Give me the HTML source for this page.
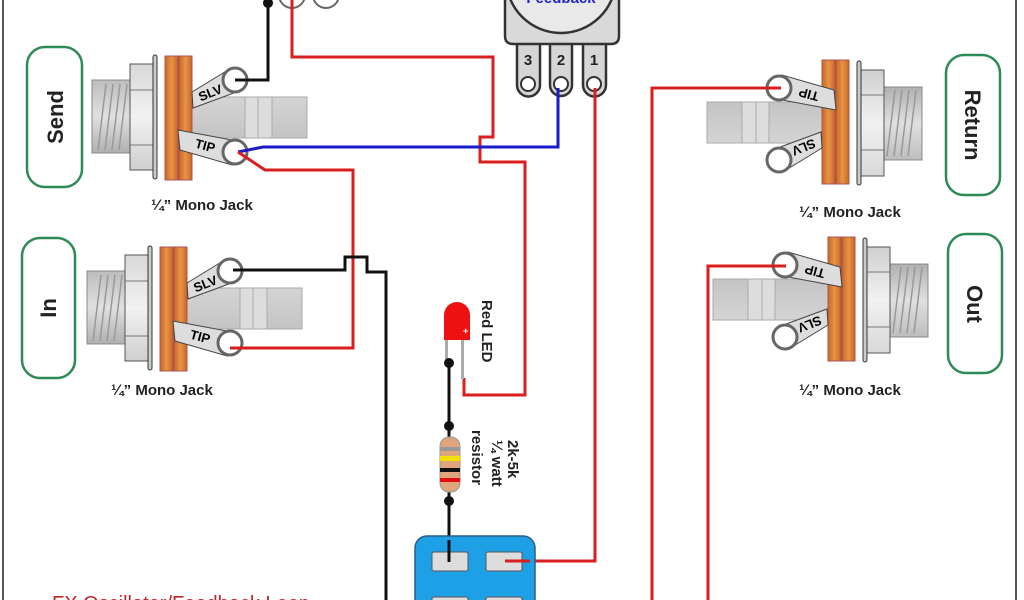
<!DOCTYPE html>
<html><head><meta charset="utf-8"><style>
html,body{margin:0;padding:0;background:#fff;}
svg{display:block;font-family:"Liberation Sans",Arial,sans-serif;}
</style></head><body>
<svg width="1024" height="600" viewBox="0 0 1024 600" xmlns="http://www.w3.org/2000/svg">
<defs>
<linearGradient id="thr" x1="0" y1="0" x2="0" y2="1"><stop offset="0" stop-color="#bdbdbd"/><stop offset="0.5" stop-color="#e0e0e0"/><stop offset="1" stop-color="#b0b0b0"/></linearGradient>
<linearGradient id="hex" x1="0" y1="0" x2="0" y2="1"><stop offset="0" stop-color="#d8d8d8"/><stop offset="0.5" stop-color="#f2f2f2"/><stop offset="1" stop-color="#cfcfcf"/></linearGradient>
<linearGradient id="org" x1="0" y1="0" x2="1" y2="0"><stop offset="0" stop-color="#c8671f"/><stop offset="0.5" stop-color="#e8944a"/><stop offset="1" stop-color="#c8671f"/></linearGradient>
<linearGradient id="plug" x1="0" y1="0" x2="0" y2="1"><stop offset="0" stop-color="#d4d4d4"/><stop offset="1" stop-color="#c4c4c4"/></linearGradient>
</defs>
<rect width="1024" height="600" fill="#fff"/>
<line x1="3" y1="0" x2="3" y2="600" stroke="#555" stroke-width="2"/>
<line x1="1016" y1="0" x2="1016" y2="600" stroke="#555" stroke-width="2"/>

<!-- Send jack -->
<g>
<rect x="192" y="97" width="115" height="41" fill="url(#plug)" stroke="#aaa"/>
<rect x="245" y="97" width="13" height="41" fill="#ddd" stroke="#aaa"/>
<rect x="258" y="97" width="14" height="41" fill="#ddd" stroke="#aaa"/>
<rect x="92" y="80" width="38" height="73" fill="url(#thr)" stroke="#888"/>
<g stroke="#999" stroke-width="1.5"><line x1="98" y1="150" x2="106" y2="84"/><line x1="105" y1="150" x2="113" y2="84"/><line x1="112" y1="150" x2="120" y2="84"/><line x1="119" y1="150" x2="127" y2="84"/></g>
<rect x="130" y="64" width="25" height="106" fill="url(#hex)" stroke="#555"/>
<line x1="130" y1="90" x2="155" y2="90" stroke="#777"/><line x1="130" y1="145" x2="155" y2="145" stroke="#777"/>
<rect x="153" y="55" width="4" height="124" rx="2" fill="#ccc" stroke="#333"/>
<rect x="165" y="56" width="13" height="124" fill="url(#org)" stroke="#a55"/>
<rect x="179" y="56" width="13" height="124" fill="url(#org)" stroke="#a55"/>
<polygon points="192,92 228,70 242,90 193,108" fill="#ddd" stroke="#444"/>
<text x="212" y="97" font-size="13" font-weight="bold" transform="rotate(-22 212 97)" text-anchor="middle">SLV</text>
<circle cx="235" cy="80" r="12" fill="#fff" stroke="#666" stroke-width="3"/>
<polygon points="178,130 232,140 232,165 180,150" fill="#ddd" stroke="#444"/>
<text x="204" y="150" font-size="13" font-weight="bold" transform="rotate(15 204 150)" text-anchor="middle">TIP</text>
<circle cx="235" cy="152" r="12" fill="#fff" stroke="#666" stroke-width="3"/>
</g>
<!-- In jack -->
<g transform="translate(-5,191)">
<rect x="192" y="97" width="115" height="41" fill="url(#plug)" stroke="#aaa"/>
<rect x="245" y="97" width="13" height="41" fill="#ddd" stroke="#aaa"/>
<rect x="258" y="97" width="14" height="41" fill="#ddd" stroke="#aaa"/>
<rect x="92" y="80" width="38" height="73" fill="url(#thr)" stroke="#888"/>
<g stroke="#999" stroke-width="1.5"><line x1="98" y1="150" x2="106" y2="84"/><line x1="105" y1="150" x2="113" y2="84"/><line x1="112" y1="150" x2="120" y2="84"/><line x1="119" y1="150" x2="127" y2="84"/></g>
<rect x="130" y="64" width="25" height="106" fill="url(#hex)" stroke="#555"/>
<line x1="130" y1="90" x2="155" y2="90" stroke="#777"/><line x1="130" y1="145" x2="155" y2="145" stroke="#777"/>
<rect x="153" y="55" width="4" height="124" rx="2" fill="#ccc" stroke="#333"/>
<rect x="165" y="56" width="13" height="124" fill="url(#org)" stroke="#a55"/>
<rect x="179" y="56" width="13" height="124" fill="url(#org)" stroke="#a55"/>
<polygon points="192,92 228,70 242,90 193,108" fill="#ddd" stroke="#444"/>
<text x="212" y="97" font-size="13" font-weight="bold" transform="rotate(-22 212 97)" text-anchor="middle">SLV</text>
<circle cx="235" cy="80" r="12" fill="#fff" stroke="#666" stroke-width="3"/>
<polygon points="178,130 232,140 232,165 180,150" fill="#ddd" stroke="#444"/>
<text x="204" y="150" font-size="13" font-weight="bold" transform="rotate(15 204 150)" text-anchor="middle">TIP</text>
<circle cx="235" cy="152" r="12" fill="#fff" stroke="#666" stroke-width="3"/>
</g>
<!-- Return jack -->
<g transform="rotate(180 507 120)">
<rect x="192" y="97" width="115" height="41" fill="url(#plug)" stroke="#aaa"/>
<rect x="245" y="97" width="13" height="41" fill="#ddd" stroke="#aaa"/>
<rect x="258" y="97" width="14" height="41" fill="#ddd" stroke="#aaa"/>
<rect x="92" y="80" width="38" height="73" fill="url(#thr)" stroke="#888"/>
<g stroke="#999" stroke-width="1.5"><line x1="98" y1="150" x2="106" y2="84"/><line x1="105" y1="150" x2="113" y2="84"/><line x1="112" y1="150" x2="120" y2="84"/><line x1="119" y1="150" x2="127" y2="84"/></g>
<rect x="130" y="64" width="25" height="106" fill="url(#hex)" stroke="#555"/>
<line x1="130" y1="90" x2="155" y2="90" stroke="#777"/><line x1="130" y1="145" x2="155" y2="145" stroke="#777"/>
<rect x="153" y="55" width="4" height="124" rx="2" fill="#ccc" stroke="#333"/>
<rect x="165" y="56" width="13" height="124" fill="url(#org)" stroke="#a55"/>
<rect x="179" y="56" width="13" height="124" fill="url(#org)" stroke="#a55"/>
<polygon points="192,92 228,70 242,90 193,108" fill="#ddd" stroke="#444"/>
<text x="212" y="97" font-size="13" font-weight="bold" transform="rotate(-22 212 97)" text-anchor="middle">SLV</text>
<circle cx="235" cy="80" r="12" fill="#fff" stroke="#666" stroke-width="3"/>
<polygon points="178,130 232,140 232,165 180,150" fill="#ddd" stroke="#444"/>
<text x="204" y="150" font-size="13" font-weight="bold" transform="rotate(15 204 150)" text-anchor="middle">TIP</text>
<circle cx="235" cy="152" r="12" fill="#fff" stroke="#666" stroke-width="3"/>
</g>
<!-- Out jack -->
<g transform="rotate(180 510 208.5)">
<rect x="192" y="97" width="115" height="41" fill="url(#plug)" stroke="#aaa"/>
<rect x="245" y="97" width="13" height="41" fill="#ddd" stroke="#aaa"/>
<rect x="258" y="97" width="14" height="41" fill="#ddd" stroke="#aaa"/>
<rect x="92" y="80" width="38" height="73" fill="url(#thr)" stroke="#888"/>
<g stroke="#999" stroke-width="1.5"><line x1="98" y1="150" x2="106" y2="84"/><line x1="105" y1="150" x2="113" y2="84"/><line x1="112" y1="150" x2="120" y2="84"/><line x1="119" y1="150" x2="127" y2="84"/></g>
<rect x="130" y="64" width="25" height="106" fill="url(#hex)" stroke="#555"/>
<line x1="130" y1="90" x2="155" y2="90" stroke="#777"/><line x1="130" y1="145" x2="155" y2="145" stroke="#777"/>
<rect x="153" y="55" width="4" height="124" rx="2" fill="#ccc" stroke="#333"/>
<rect x="165" y="56" width="13" height="124" fill="url(#org)" stroke="#a55"/>
<rect x="179" y="56" width="13" height="124" fill="url(#org)" stroke="#a55"/>
<polygon points="192,92 228,70 242,90 193,108" fill="#ddd" stroke="#444"/>
<text x="212" y="97" font-size="13" font-weight="bold" transform="rotate(-22 212 97)" text-anchor="middle">SLV</text>
<circle cx="235" cy="80" r="12" fill="#fff" stroke="#666" stroke-width="3"/>
<polygon points="178,130 232,140 232,165 180,150" fill="#ddd" stroke="#444"/>
<text x="204" y="150" font-size="13" font-weight="bold" transform="rotate(15 204 150)" text-anchor="middle">TIP</text>
<circle cx="235" cy="152" r="12" fill="#fff" stroke="#666" stroke-width="3"/>
</g>

<!-- label boxes -->
<g fill="none" stroke="#2e8b57" stroke-width="2.5">
<rect x="27" y="47" width="55" height="140" rx="18"/>
<rect x="22" y="238" width="53" height="140" rx="18"/>
<rect x="946" y="55" width="54" height="140" rx="18"/>
<rect x="948" y="234" width="54" height="139" rx="18"/>
</g>
<g font-size="22" font-weight="bold" fill="#222" text-anchor="middle">
<text transform="translate(63,117) rotate(-90)">Send</text>
<text transform="translate(56,308) rotate(-90)">In</text>
<text transform="translate(965,125) rotate(90)">Return</text>
<text transform="translate(967,304) rotate(90)">Out</text>
</g>
<g font-size="15" font-weight="bold" fill="#222" text-anchor="middle">
<text x="202" y="210">¼” Mono Jack</text>
<text x="162" y="395">¼” Mono Jack</text>
<text x="850" y="217">¼” Mono Jack</text>
<text x="850" y="395">¼” Mono Jack</text>
</g>

<!-- Potentiometer -->
<g stroke="#333" stroke-width="2.5">
<path d="M517,40 V85 a11,11 0 0 0 23,0 V40 Z" fill="#d6d6d6"/>
<path d="M550,40 V85 a11,11 0 0 0 22,0 V40 Z" fill="#d6d6d6"/>
<path d="M583,40 V85 a11,11 0 0 0 23,0 V40 Z" fill="#d6d6d6"/>
<path d="M505,-5 V36 q0,8 8,8 H611 q8,0 8,-8 V-5 Z" fill="#d9d9d9"/>
<circle cx="561" cy="-22" r="55" fill="#e9e9e9"/>
</g>
<g fill="#fff" stroke="#333" stroke-width="2"><circle cx="528" cy="84" r="7"/><circle cx="561" cy="84" r="7"/><circle cx="594" cy="84" r="7"/></g>
<g font-size="15" font-weight="bold" fill="#222" text-anchor="middle"><text x="528" y="65">3</text><text x="561" y="65">2</text><text x="594" y="65">1</text></g>
<text x="561" y="3" font-size="15" font-weight="bold" fill="#2323c8" text-anchor="middle">Feedback</text>
<g fill="#fff" stroke="#666" stroke-width="2"><circle cx="292" cy="-5" r="13"/><circle cx="326" cy="-5" r="13"/></g>

<!-- wires -->
<g fill="none" stroke-width="3" stroke-linejoin="miter">
<polyline points="268,3 268,80 235,80" stroke="#111"/>
<circle cx="268" cy="3" r="5" fill="#111" stroke="none"/>
<polyline points="292,0 292,57 493,57 493,137 480,137 480,162 525,162 525,395 464,395 464,378" stroke="#d81e1e"/>
<polyline points="238,152 263,147 558,147 558,88" stroke="#1a1ac8"/>
<polyline points="595,88 595,561 505,561" stroke="#d81e1e"/>
<polyline points="238,152 265,170 353,170 353,348 230,348" stroke="#d81e1e"/>
<polyline points="233,270 345,270 345,257 367,257 367,272 386,272 386,600" stroke="#111"/>
<polyline points="652,600 652,88 781,88" stroke="#d81e1e"/>
<polyline points="708,600 708,266 786,266" stroke="#d81e1e"/>
<line x1="449" y1="362" x2="449" y2="561" stroke="#111"/>
</g>

<!-- LED -->
<rect x="445" y="337" width="3" height="26" fill="#aaa"/>
<rect x="461" y="337" width="3" height="42" fill="#aaa"/>
<path d="M444,340 V315 a13,13 0 0 1 26,0 V340 Z" fill="#ee1111"/>
<text x="463" y="334" font-size="9" fill="#fff" font-weight="bold">+</text>
<circle cx="449" cy="363" r="5" fill="#111"/>
<text transform="translate(482,300) rotate(90)" font-size="15" font-weight="bold" fill="#222">Red LED</text>

<!-- resistor -->
<circle cx="449" cy="426" r="5" fill="#111"/>
<circle cx="449" cy="501" r="5" fill="#111"/>
<rect x="440" y="437" width="20" height="55" rx="9" fill="#e0a57a" stroke="#999"/>
<rect x="440" y="447" width="20" height="4" fill="#999"/>
<rect x="440" y="456" width="20" height="5" fill="#f3e000"/>
<rect x="440" y="468" width="20" height="4" fill="#111"/>
<rect x="440" y="478" width="20" height="4" fill="#e01010"/>
<g font-size="15" font-weight="bold" fill="#222">
<text transform="translate(508,440) rotate(90)">2k-5k</text>
<text transform="translate(492,440) rotate(90)">¼ watt</text>
<text transform="translate(472,430) rotate(90)">resistor</text>
</g>

<!-- switch -->
<rect x="415" y="536" width="120" height="80" rx="12" fill="#1ea0e6" stroke="#2b5f86" stroke-width="1.5"/>
<g fill="#ddd" stroke="#555"><rect x="432" y="552" width="36" height="19" rx="2"/><rect x="486" y="552" width="36" height="19" rx="2"/><rect x="432" y="597" width="36" height="19" rx="2"/><rect x="486" y="597" width="36" height="19" rx="2"/></g>
<line x1="449" y1="540" x2="449" y2="562" stroke="#111" stroke-width="3"/>
<line x1="505" y1="561" x2="530" y2="561" stroke="#d81e1e" stroke-width="3"/>

<text x="52" y="610" font-size="20" fill="#c0282d">FX Oscillator/Feedback Loop</text>
</svg>
</body></html>
